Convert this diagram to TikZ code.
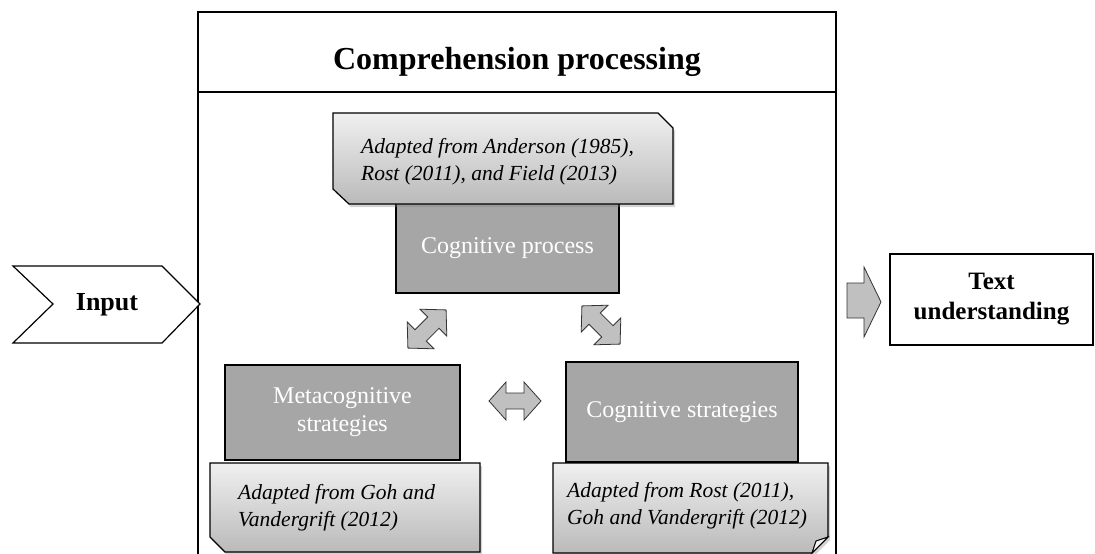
\documentclass[tikz,border=0pt]{standalone}
\usepackage{fontspec}
\setmainfont{Liberation Serif}
\usetikzlibrary{shadows}

\definecolor{boxgray}{HTML}{A6A6A6}
\definecolor{arrowgray}{HTML}{C0C0C0}
\definecolor{notetop}{HTML}{F0F0F0}
\definecolor{notebot}{HTML}{BABABA}
\definecolor{foldgray}{HTML}{F4F4F4}

\tikzset{
  frameline/.style={draw=black, line width=1.3pt},
  graybox/.style={draw=black, line width=1.2pt, fill=boxgray, text=white,
    font=\fontsize{24}{28}\selectfont, align=center, inner sep=0pt},
  notebox/.style={draw=black, line width=1.2pt, top color=notetop, bottom color=notebot,
    drop shadow={shadow xshift=2pt, shadow yshift=-3pt, opacity=.35}},
  notetext/.style={font=\fontsize{21.5}{27}\selectfont\itshape, align=left, anchor=west, inner sep=0pt},
  blockarrow/.style={draw=black!80, line width=.8pt, fill=arrowgray, line join=miter},
  headtext/.style={font=\fontsize{25}{30}\selectfont\bfseries, align=center, inner sep=0pt},
}

\begin{document}
\begin{tikzpicture}[x=1pt,y=-1pt]
\useasboundingbox (0,0) rectangle (1095,554);

% outer frame with title band
\draw[frameline] (198,558) -- (198,12) -- (836,12) -- (836,558);
\draw[frameline] (198,92) -- (836,92);
\node[font=\fontsize{32}{36}\selectfont\bfseries, anchor=base, inner sep=0pt] (title) at (517,69) {Comprehension processing};

% input chevron
\draw[line width=1.2pt, fill=white, line join=miter]
  (13,266) -- (162,266) -- (200,304) -- (162,343) -- (13,343) -- (53,304) -- cycle;
\node[headtext, font=\fontsize{26}{30}\selectfont\bfseries] (input) at (107,305) {Input};

% result box and arrow leading into it
\node[draw=black, line width=1.2pt, minimum width=203pt, minimum height=91pt,
  headtext] (textund) at (991.5,299.5) {Text\\understanding};
\draw[blockarrow] (847,283) -- (864,283) -- (864,267) -- (881,302)
  -- (864,337) -- (864,318) -- (847,318) -- cycle;

% grey process boxes
\node[graybox, minimum width=223pt, minimum height=90pt] (cogproc) at (507.5,248) {Cognitive process};
\node[graybox, minimum width=235pt, minimum height=95pt] (meta) at (342.5,412.5) {Metacognitive\\strategies};
\node[graybox, minimum width=232pt, minimum height=100pt] (cogstrat) at (682,412) {Cognitive strategies};

% source notes
\path[notebox] (333,113) -- (658,113) -- (673,128) -- (673,204) -- (349,204) -- (333,189) -- cycle;
\node[notetext] (notetop) at (361,162) {Adapted from Anderson (1985),\\Rost (2011), and Field (2013)};

\path[notebox] (210,463) -- (480,463) -- (480,552) -- (225,552) -- (210,537) -- cycle;
\node[notetext] (noteleft) at (238,508) {Adapted from Goh and\\Vandergrift (2012)};

\path[notebox] (553,463) -- (828,463) -- (828,537) -- (812,553) -- (553,553) -- cycle;
\draw[line width=1pt, fill=foldgray, line join=miter] (828,537) -- (812,553) -- (816,541) -- cycle;
\node[notetext] (noteright) at (567,506) {Adapted from Rost (2011),\\Goh and Vandergrift (2012)};

% double-headed block arrows between the boxes
\begin{scope}[shift={(427,329)}, rotate=45]
  \draw[blockarrow] (-27,0) -- (-9,-19) -- (-9,-8) -- (9,-8) -- (9,-19) -- (27,0)
    -- (9,19) -- (9,8) -- (-9,8) -- (-9,19) -- cycle;
\end{scope}
\begin{scope}[shift={(601,325)}, rotate=-45]
  \draw[blockarrow] (-27,0) -- (-9,-19) -- (-9,-8) -- (9,-8) -- (9,-19) -- (27,0)
    -- (9,19) -- (9,8) -- (-9,8) -- (-9,19) -- cycle;
\end{scope}
\begin{scope}[shift={(515,401)}]
  \draw[blockarrow] (-26,0) -- (-9,-19) -- (-9,-8) -- (9,-8) -- (9,-19) -- (26,0)
    -- (9,19) -- (9,8) -- (-9,8) -- (-9,19) -- cycle;
\end{scope}
\end{tikzpicture}
\end{document}
